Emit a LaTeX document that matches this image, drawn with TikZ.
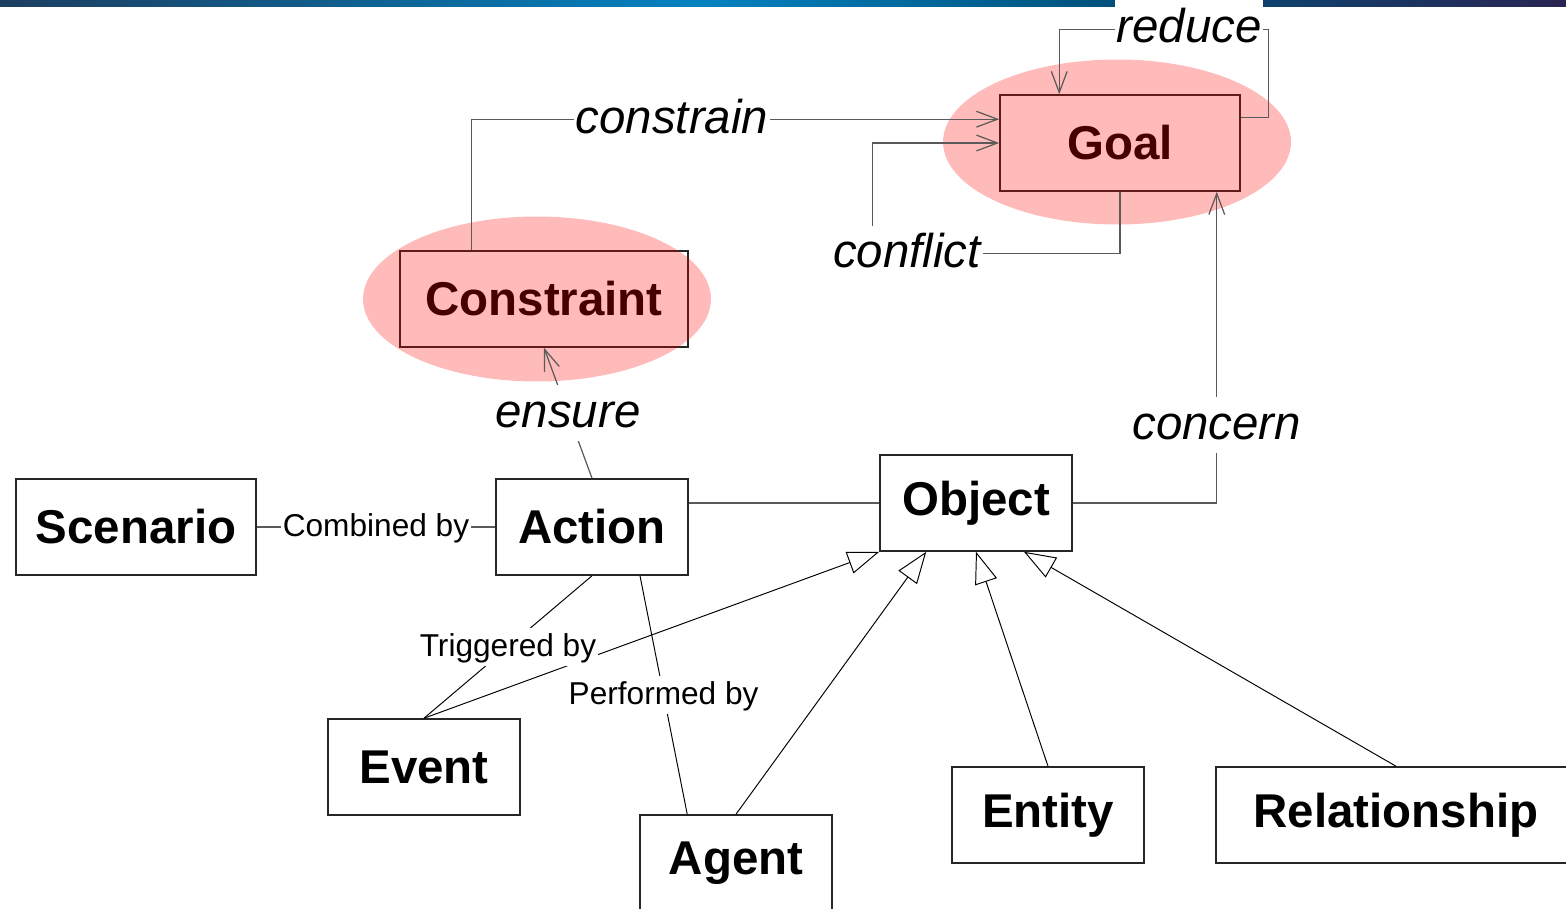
\documentclass[tikz,border=0pt]{standalone}
\usepackage{fontspec}
\setmainfont{Liberation Sans}
\usetikzlibrary{shapes.geometric}
\usetikzlibrary{arrows.meta}
\usetikzlibrary{calc}

\definecolor{barnavy}{RGB}{28,62,96}
\definecolor{barblue}{RGB}{4,130,192}
\definecolor{bardark}{RGB}{0,82,125}
\definecolor{barplum}{RGB}{42,36,82}
\definecolor{linegray}{RGB}{90,90,90}

\tikzset{
  cls/.style={draw=black!85, line width=0.9pt, fill=white, minimum height=1.92cm, inner sep=0pt,
    font=\fontsize{27}{32}\selectfont\bfseries},
  blob/.style={ellipse, fill=red, fill opacity=0.27, minimum width=6.96cm, minimum height=3.3cm},
  assoc/.style={draw=linegray, line width=0.7pt},
  isa/.style={draw=black, line width=0.55pt, -{Triangle[open,length=18pt,width=13pt]}},
  vhead/.style={-{Straight Barb[length=12pt,width=9pt]}},
  relname/.style={fill=white, inner xsep=1pt, inner ysep=1pt, text height=23pt, text depth=7pt,
    font=\fontsize{27}{32}\selectfont\itshape},
  rolename/.style={fill=white, inner xsep=1pt, inner ysep=1pt, text height=15pt, text depth=4.5pt,
    font=\fontsize{18}{22}\selectfont}
}

\begin{document}
\begin{tikzpicture}[x=0.02cm,y=-0.02cm]
\useasboundingbox (0,0) rectangle (1566,909);

% title bar
\shade[left color=barnavy, right color=barblue] (0,0) rectangle (700,7);
\shade[left color=barblue, right color=bardark] (700,0) rectangle (1100,7);
\shade[left color=bardark, right color=barplum] (1100,0) rectangle (1566,7);

% classes
\node[cls, minimum width=4.8cm] (scn) at (136,527) {Scenario};
\node[cls, minimum width=3.84cm] (act) at (592,527) {Action};
\node[cls, minimum width=3.84cm] (obj) at (976,503) {Object};
\node[cls, minimum width=3.84cm] (evt) at (424,767) {Event};
\node[cls, minimum width=3.84cm] (agt) at (736,863) {Agent};
\node[cls, minimum width=3.84cm] (ent) at (1048,815) {Entity};
\node[cls, minimum width=7.2cm] (rel) at (1396,815) {Relationship};
\node[cls, minimum width=5.76cm] (con) at (544,299) {Constraint};
\node[cls, minimum width=4.8cm] (goal) at (1120,143) {Goal};

% highlights
\node[blob] (conblob) at (537,299) {};
\node[blob] (goalblob) at (1117,142) {};

% is-a
\draw[isa] (evt.north) -- (obj.south west);
\draw[isa] (agt.north) -- ($(obj.south west)+(47,0)$);
\draw[isa] (ent.north) -- (obj.south);
\draw[isa] (rel.north) -- ($(obj.south)+(48,0)$);

% associations
\draw[assoc] (scn.east) -- node[rolename] {Combined by} (act.west);
\draw[assoc] (act.east |- obj.west) -- (obj.west);
\draw[assoc, line width=0.55pt, draw=black] (evt.north) -- node[rolename] {Triggered by} (act.south);
\draw[assoc, line width=0.55pt, draw=black] ($(agt.north west)+(48,0)$) -- node[rolename] {Performed by} ($(act.south)+(48,0)$);

% goal links
\draw[assoc, vhead] (act.north) -- node[relname] {ensure} (con.south);
\draw[assoc, vhead] ($(con.north west)+(72,0)$) |- node[relname, pos=0.69] {constrain} ($(goal.north west)+(0,25)$);
\draw[assoc, vhead] (goal.south) -- ++(0,62) -| node[relname, pos=0.43] {conflict} ($(goal.west)+(-127,0)$) -- (goal.west);
\draw[assoc, vhead] ($(goal.north east)+(0,23)$) -- ++(28,0) |- node[relname, text height=26pt, yshift=2pt, pos=0.69] {reduce} ($(goal.north west)+(60,-65)$) -- ($(goal.north west)+(60,0)$);
\draw[assoc, vhead] (obj.east) -| node[relname, pos=0.625] {concern} ($(goal.south east)+(-24,0)$);
\end{tikzpicture}
\end{document}
